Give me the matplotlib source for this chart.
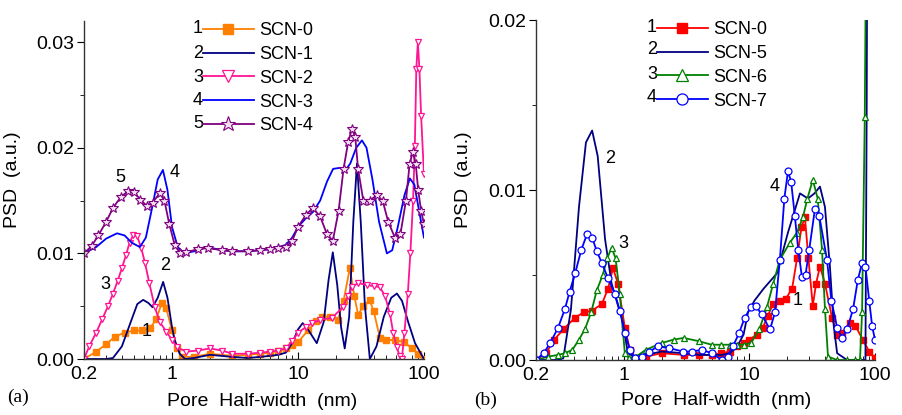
import matplotlib
matplotlib.use("Agg")
import matplotlib.pyplot as plt
from matplotlib.ticker import FixedLocator, FixedFormatter, MultipleLocator, LogLocator, NullFormatter

plt.rcParams['font.family'] = ['Liberation Sans', 'DejaVu Sans']

## panel (a) data
a0_x = [0.2, 0.25, 0.3, 0.35, 0.42, 0.5, 0.58, 0.67, 0.75, 0.83, 0.9, 1.0, 1.1, 1.2, 1.5, 2, 3, 4, 5, 6, 7, 8, 9, 10,
        12, 14, 15.5, 18, 20.7, 23, 25.8, 28, 30, 33, 37, 40, 44.7, 50, 58.8, 70, 80, 90, 100]
a0_y = [0, 0.0007, 0.0014, 0.0021, 0.0025, 0.0027, 0.0027, 0.0029, 0.0038, 0.0053, 0.0048, 0.0027, 0.0010, 0.0002,
        0.0002, 0.0005, 0.0003, 0.0004, 0.0005, 0.0006, 0.0008, 0.0010, 0.0013, 0.0016, 0.0027, 0.0036, 0.0040,
        0.0040, 0.0037, 0.0055, 0.0086, 0.0060, 0.0042, 0.0050, 0.0056, 0.0045, 0.0020, 0.0018, 0.0018, 0.0016,
        0.0010, 0.0005, 0.0]

a1_x = [0.2, 0.3, 0.34, 0.4, 0.47, 0.53, 0.59, 0.65, 0.70, 0.77, 0.85, 0.92, 1.0, 1.05, 1.15, 1.27, 1.5, 2, 3, 4,
        5, 6, 7, 8, 9, 10, 10.9, 12, 14.1, 16, 17.5, 18.9, 20.5, 22, 23.5, 25.5, 27.5, 29.4, 31.5, 34, 37.2, 42,
        48, 55, 61, 67, 75, 85, 100]
a1_y = [0, 0, 0.0001, 0.0012, 0.0035, 0.0052, 0.0056, 0.0053, 0.0049, 0.0058, 0.0073, 0.0058, 0.0030, 0.0018,
        0.0005, 0.0, 0.0001, 0.0004, 0.0002, 0.0001, 0.0002, 0.0003, 0.0004, 0.0006, 0.0015, 0.0028, 0.0034,
        0.0028, 0.0015, 0.0035, 0.0075, 0.0101, 0.0070, 0.0030, 0.0010, 0.0040, 0.0130, 0.0185, 0.0130, 0.0050,
        0.0, 0.0012, 0.0040, 0.0058, 0.0062, 0.0055, 0.0035, 0.0015, 0.0]

a2_x = [0.2, 0.22, 0.25, 0.28, 0.31, 0.34, 0.37, 0.40, 0.43, 0.46, 0.49, 0.53, 0.57, 0.61, 0.66, 0.73, 0.8, 0.9,
        1.0, 1.1, 1.3, 1.6, 2, 2.5, 3, 4, 5, 6, 7, 8, 9, 10, 11.5, 13, 15, 18.6, 22.7, 25, 26.8, 30, 35, 40, 44.7,
        49, 53.7, 57, 61, 64, 66.8, 70, 74.5, 78, 82, 84.7, 87, 89.5, 92, 95, 100]
a2_y = [0, 0.0012, 0.0025, 0.0038, 0.0050, 0.0062, 0.0074, 0.0086, 0.0098, 0.0110, 0.0117, 0.0116, 0.0105,
        0.0091, 0.0072, 0.0049, 0.0035, 0.0026, 0.0018, 0.0011, 0.0007, 0.0008, 0.0010, 0.0008, 0.0005, 0.0005,
        0.0006, 0.0007, 0.0008, 0.0010, 0.0017, 0.0025, 0.0030, 0.0034, 0.0037, 0.0039, 0.0049, 0.0060, 0.0068,
        0.0072, 0.0070, 0.0069, 0.0068, 0.0060, 0.0043, 0.0025, 0.0011, 0.0003, 0.0, 0.0025, 0.0062, 0.0100,
        0.0150, 0.0202, 0.0275, 0.0300, 0.0275, 0.0230, 0.0175]

a3_x = [0.2, 0.25, 0.3, 0.366, 0.42, 0.48, 0.556, 0.62, 0.7, 0.77, 0.847, 0.92, 1.0, 1.11, 1.25, 1.5, 1.9, 2.5, 3,
        4, 5, 6, 7, 8, 9, 10, 11.5, 13.1, 15, 17, 19, 21.5, 23.5, 26, 29, 32.2, 35, 39, 44, 50.8, 56, 62, 70, 77.3,
        84, 90, 100]
a3_y = [0.0100, 0.0106, 0.0114, 0.0119, 0.0117, 0.0110, 0.0106, 0.0115, 0.0145, 0.0170, 0.0179, 0.0160, 0.0125,
        0.0106, 0.0100, 0.0102, 0.0106, 0.0103, 0.0102, 0.0102, 0.0103, 0.0104, 0.0106, 0.0108, 0.0115, 0.0125,
        0.0133, 0.0139, 0.0150, 0.0168, 0.0180, 0.0181, 0.0178, 0.0185, 0.0200, 0.0207, 0.0200, 0.0170, 0.0130,
        0.0100, 0.0103, 0.0125, 0.0155, 0.0171, 0.0165, 0.0145, 0.0115]

a4_x = [0.2, 0.23, 0.26, 0.3, 0.34, 0.39, 0.447, 0.5, 0.56, 0.63, 0.7, 0.8, 0.87, 0.95, 1.05, 1.16, 1.3, 1.6, 1.93,
        2.5, 3, 4, 5, 6, 7, 8, 9, 10, 11.5, 13.1, 15, 17, 18.9, 21, 23, 25, 26.8, 28.5, 30, 33, 37, 42.3, 47, 52,
        58.8, 65, 72, 77, 81.7, 86, 90, 95, 100]
a4_y = [0.0100, 0.0107, 0.0117, 0.0130, 0.0143, 0.0153, 0.0159, 0.0158, 0.0151, 0.0145, 0.0148, 0.0157, 0.0150,
        0.0128, 0.0108, 0.0100, 0.0101, 0.0104, 0.0105, 0.0103, 0.0102, 0.0102, 0.0103, 0.0104, 0.0105, 0.0106,
        0.0112, 0.0125, 0.0136, 0.0143, 0.0135, 0.0118, 0.0112, 0.0140, 0.0180, 0.0205, 0.0218, 0.0210, 0.0180,
        0.0150, 0.0150, 0.0155, 0.0150, 0.0130, 0.0115, 0.0118, 0.0150, 0.0185, 0.0196, 0.0185, 0.0160, 0.0140,
        0.0128]

## panel (b) data
b0_x = [0.2, 0.24, 0.28, 0.33, 0.41, 0.48, 0.56, 0.67, 0.75, 0.82, 0.9, 1.02, 1.12, 1.23, 1.5, 2, 3, 4, 5, 6, 7,
        8, 9, 10, 11.5, 12.8, 14, 15.5, 17.5, 19.5, 21.9, 24, 26, 27.7, 29.5, 32, 34, 36.5, 40, 45.5, 50, 55, 63.2,
        70, 80, 90, 100]
b0_y = [0, 0.0004, 0.0012, 0.0018, 0.0025, 0.0028, 0.0029, 0.0033, 0.0042, 0.0054, 0.0045, 0.0019, 0.0006,
        0.0001, 0.0002, 0.0004, 0.0003, 0.0003, 0.0003, 0.0004, 0.0005, 0.0008, 0.0010, 0.0012, 0.0015, 0.0019,
        0.0026, 0.0033, 0.0035, 0.0036, 0.0042, 0.0060, 0.0078, 0.0084, 0.0060, 0.0032, 0.0045, 0.0055, 0.0045,
        0.0025, 0.0015, 0.0016, 0.0022, 0.0020, 0.0012, 0.0005, 0.0001]

b1_x = [0.2, 0.3, 0.33, 0.38, 0.44, 0.5, 0.56, 0.62, 0.71, 0.8, 0.9, 0.97, 1.08, 1.2, 1.5, 2, 3, 4, 5, 6, 7, 8, 9,
        9.75, 11, 13, 16.6, 20.3, 25.3, 29.3, 33, 36.5, 40, 43.8, 47, 50, 60, 70, 80.3, 84, 86, 88, 92]
b1_y = [0, 0, 0.0001, 0.0030, 0.0090, 0.0128, 0.0135, 0.0120, 0.0071, 0.0045, 0.0032, 0.0024, 0.0004, 0.0002,
        0.0003, 0.0005, 0.0004, 0.0003, 0.0003, 0.0003, 0.0004, 0.0008, 0.0015, 0.0028, 0.0035, 0.0042, 0.0051,
        0.0075, 0.0098, 0.0095, 0.0098, 0.0102, 0.0090, 0.0055, 0.0020, 0.0004, 0, 0, 0, 0.0, 0.015, 0.04, 0.08]

b2_x = [0.2, 0.25, 0.3, 0.34, 0.39, 0.44, 0.49, 0.55, 0.61, 0.68, 0.74, 0.8, 0.86, 0.93, 1.02, 1.1, 1.25, 1.5, 2,
        2.5, 3, 4, 5, 6, 7, 8, 9, 10.3, 12, 13.8, 15.5, 17.5, 21, 24, 26.7, 29, 32, 35, 37.9, 40, 42.3, 50, 60, 70,
        76, 79, 83, 86, 90]
b2_y = [0, 0.0002, 0.0003, 0.0004, 0.0006, 0.0012, 0.0018, 0.0028, 0.0041, 0.0050, 0.0060, 0.0066, 0.0060, 0.0039,
        0.0004, 0.0001, 0.0002, 0.0006, 0.0010, 0.0012, 0.0013, 0.0011, 0.0009, 0.0009, 0.0009, 0.0009, 0.0009,
        0.0010, 0.0018, 0.0031, 0.0045, 0.0059, 0.0069, 0.0075, 0.0084, 0.0095, 0.0106, 0.0095, 0.0065, 0.0030,
        0.0002, 0, 0, 0, 0, 0.0028, 0.0143, 0.03, 0.06]

b3_x = [0.2, 0.23, 0.26, 0.3, 0.34, 0.37, 0.41, 0.46, 0.51, 0.56, 0.61, 0.67, 0.75, 0.85, 0.93, 1.02, 1.12, 1.23,
        1.4, 1.6, 1.87, 2.3, 2.96, 3.5, 4.2, 5, 6.05, 6.7, 7.4, 8.3, 9.2, 10.3, 11.2, 12.5, 14.6, 16, 17.5, 19,
        20.3, 21.5, 23, 24.5, 26.2, 28, 30, 33.3, 36, 41.5, 45, 50, 54.6, 60, 67, 73, 78.9, 84, 90, 95, 100]
b3_y = [0, 0.0004, 0.0010, 0.0019, 0.0030, 0.0040, 0.0051, 0.0065, 0.0074, 0.0072, 0.0064, 0.0057, 0.0048,
        0.0039, 0.0029, 0.0016, 0.0006, 0.0001, 0.0002, 0.0005, 0.0008, 0.0007, 0.0005, 0.0005, 0.0006, 0.0004,
        0.0000, 0.0002, 0.0008, 0.0016, 0.0025, 0.0031, 0.0032, 0.0027, 0.0018, 0.0028, 0.0059, 0.0095, 0.0111,
        0.0105, 0.0085, 0.0065, 0.0049, 0.0050, 0.0065, 0.0089, 0.0085, 0.0059, 0.0035, 0.0019, 0.0013, 0.0018,
        0.0030, 0.0047, 0.0057, 0.0055, 0.0035, 0.0020, 0.0012]

labels_a = ['SCN-0', 'SCN-1', 'SCN-2', 'SCN-3', 'SCN-4']
labels_b = ['SCN-0', 'SCN-5', 'SCN-6', 'SCN-7']
xticks = [0.2, 1, 10, 100]
xticklabels = ['0.2', '1', '10', '100']

fig = plt.figure(figsize=(9.02, 4.15), dpi=100)
ax_a = fig.add_axes([0.0931, 0.1349, 0.3769, 0.8145])
ax_b = fig.add_axes([0.5942, 0.1325, 0.3758, 0.8193])

lw = 1.3
# panel (a)
h = []
h += ax_a.plot(a0_x, a0_y, color='#FF8000', lw=lw, marker='s', ms=4.5, mfc='#FF8000', mec='#FF8000')
h += ax_a.plot(a1_x, a1_y, color='#000080', lw=lw)
h += ax_a.plot(a2_x, a2_y, color='#FF1493', lw=lw, marker='v', ms=5, mfc='white', mec='#FF1493', mew=0.9)
h += ax_a.plot(a3_x, a3_y, color='#0000FF', lw=lw)
h += ax_a.plot(a4_x, a4_y, color='#800080', lw=lw, marker='*', ms=7, mfc='#F0E0F0', mec='#800080', mew=0.8)
ax_a.set_ylim(0, 0.032)
ax_a.yaxis.set_major_locator(FixedLocator([0, 0.01, 0.02, 0.03]))
ax_a.yaxis.set_major_formatter(FixedFormatter(['0.00', '0.01', '0.02', '0.03']))
ax_a.yaxis.set_minor_locator(MultipleLocator(0.005))
leg_a = ax_a.legend(h, labels_a, loc='upper left', bbox_to_anchor=(0.35, 0.997), frameon=False, fontsize=13,
                    handlelength=2.8, handletextpad=0.3, labelspacing=0.38, borderpad=0, borderaxespad=0,
                    markerscale=1.6)
for i, yy in enumerate([0.979, 0.905, 0.834, 0.766, 0.698]):
    ax_a.text(0.35, yy, str(i + 1), transform=ax_a.transAxes, ha='right', va='center', fontsize=13)
for s, (tx, ty) in zip(['5', '4', '2', '3', '1'],
                       [(0.106, 0.538), (0.268, 0.553), (0.238, 0.278), (0.062, 0.219), (0.185, 0.080)]):
    ax_a.text(tx, ty, s, transform=ax_a.transAxes, ha='center', va='center', fontsize=13)

# panel (b)
h = []
h += ax_b.plot(b0_x, b0_y, color='#FF0000', lw=lw, marker='s', ms=4.5, mfc='#FF0000', mec='#FF0000')
h += ax_b.plot(b1_x, b1_y, color='#000080', lw=lw)
h += ax_b.plot(b2_x, b2_y, color='#008000', lw=lw, marker='^', ms=5, mfc='white', mec='#008000', mew=0.9)
h += ax_b.plot(b3_x, b3_y, color='#0000FF', lw=lw, marker='o', ms=5, mfc='white', mec='#0000FF', mew=0.9)
ax_b.set_ylim(0, 0.02)
ax_b.yaxis.set_major_locator(FixedLocator([0, 0.01, 0.02]))
ax_b.yaxis.set_major_formatter(FixedFormatter(['0.00', '0.01', '0.02']))
ax_b.yaxis.set_minor_locator(MultipleLocator(0.005))
leg_b = ax_b.legend(h, labels_b, loc='upper left', bbox_to_anchor=(0.357, 0.997), frameon=False, fontsize=13,
                    handlelength=2.8, handletextpad=0.3, labelspacing=0.38, borderpad=0, borderaxespad=0,
                    markerscale=1.6)
for i, yy in enumerate([0.979, 0.912, 0.841, 0.771]):
    ax_b.text(0.357, yy, str(i + 1), transform=ax_b.transAxes, ha='right', va='center', fontsize=13)
for s, (tx, ty) in zip(['2', '3', '4', '1'],
                       [(0.218, 0.594), (0.257, 0.344), (0.705, 0.509), (0.773, 0.176)]):
    ax_b.text(tx, ty, s, transform=ax_b.transAxes, ha='center', va='center', fontsize=13)

for ax, lx, ly, yl in [(ax_a, 0.524, -0.100, -0.185), (ax_b, 0.531, -0.094, -0.189)]:
    ax.set_xscale('log')
    ax.set_xlim(0.2, 100)
    ax.xaxis.set_major_locator(FixedLocator(xticks))
    ax.xaxis.set_major_formatter(FixedFormatter(xticklabels))
    ax.xaxis.set_minor_locator(LogLocator(base=10, subs=range(2, 10)))
    ax.xaxis.set_minor_formatter(NullFormatter())
    for side in ['top', 'right']:
        ax.spines[side].set_visible(False)
    for side in ['left', 'bottom']:
        ax.spines[side].set_color('#333333')
        ax.spines[side].set_linewidth(1.0)
    ax.tick_params(axis='x', which='major', direction='in', length=5, labelsize=14, pad=5)
    ax.tick_params(axis='x', which='minor', direction='in', length=3)
    ax.tick_params(axis='y', which='major', direction='out', length=5, labelsize=14, pad=2)
    ax.tick_params(axis='y', which='minor', direction='out', length=3)
    ax.set_xlabel('Pore  Half-width  (nm)', fontsize=14)
    ax.set_ylabel('PSD  (a.u.)', fontsize=14)
    ax.xaxis.set_label_coords(lx, ly)
    ax.yaxis.set_label_coords(yl, 0.53)

fig.text(0.02, 0.043, '(a)', family='Liberation Serif', fontsize=14, ha='center', va='center')
fig.text(0.538, 0.036, '(b)', family='Liberation Serif', fontsize=14, ha='center', va='center')

fig.savefig('out.png', dpi=100)
